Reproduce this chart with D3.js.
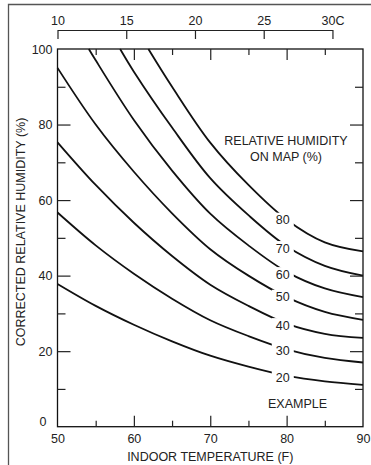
<!DOCTYPE html>
<html>
<head>
<meta charset="utf-8">
<script src="https://cdn.jsdelivr.net/npm/d3@7"></script>
<style>
  body { margin: 0; background: #fff; }
  svg { display: block; font-family: "Liberation Sans", Arial, sans-serif; }
  .axis text { font-size: 12.5px; fill: #222; }
  .axis path.domain { stroke: #222; stroke-width: 1.2; }
  .axis line { stroke: #222; stroke-width: 1.2; }
  .curve { fill: none; stroke: #111; stroke-width: 1.8; }
  .lbl { font-size: 12.5px; fill: #222; }
</style>
</head>
<body>
<svg width="371" height="465"></svg>
<script>
// indoor temperature (F) where the curves were read
const tempF = [50, 55, 60, 65, 70, 75, 80, 85, 90];

// relative humidity on map (%), one curve each
const rhMap = [20, 30, 40, 50, 60, 70, 80];

// corrected relative humidity (%) at each tempF, null = above the chart
const rh20 = [37.8, 32.0, 27.0, 22.6, 18.8, 15.9, 13.5, 12.0, 11.1];
const rh30 = [56.7, 48.0, 40.5, 33.9, 28.2, 24.0, 20.5, 18.2, 17.0];
const rh40 = [75.3, 64.0, 54.0, 45.2, 37.6, 32.0, 27.3, 24.6, 23.5];
const rh50 = [95.0, 80.0, 67.5, 56.5, 47.0, 40.0, 34.3, 30.4, 28.3];
const rh60 = [null, 97.0, 81.2, 67.8, 56.4, 48.0, 41.0, 36.6, 34.3];
const rh70 = [null, null, 94.0, 79.2, 65.8, 56.0, 47.8, 42.6, 40.0];
const rh80 = [null, null, null, 90.0, 75.2, 64.0, 54.8, 48.8, 46.4];
const curves = [rh20, rh30, rh40, rh50, rh60, rh70, rh80];

// where a curve leaves the top of the chart (F), null = starts on left edge
const topExitF = [null, null, null, null, 54.1, 58.2, 61.9];

// curve labels sit on the curves at this temperature
const labelF = 79.5;
const labelRH = [13.0, 20.3, 26.9, 34.4, 40.4, 47.3, 54.8];

// tick labels
const xTicks = [50, 60, 70, 80, 90];
const xMinor = [55, 65, 75, 85];
const xMajor = [60, 70, 80];
const yTicks = [0, 20, 40, 60, 80, 100];
const yMinor = [10, 30, 50, 70, 90];
const yMajor = [20, 40, 60, 80];
const celsiusTicks = [10, 15, 20, 25, 30];

const svg = d3.select('svg');

const x = d3.scaleLinear().domain([50, 90]).range([57.5, 363]);
const y = d3.scaleLinear().domain([0, 100]).range([426.7, 49]);
// celsius scale lined up with the F scale (10C = 50F, 30C = 86F)
const xc = d3.scaleLinear().domain([10, 30]).range([x(50), x(86)]);

// outer frame of the figure (top and left only)
svg.append('path')
  .attr('d', 'M8.5,465 V4.5 H371')
  .attr('fill', 'none')
  .attr('stroke', '#555')
  .attr('stroke-width', 1.3);

// curves
const line = d3.line()
  .x(d => x(d[0]))
  .y(d => y(d[1]))
  .curve(d3.curveCatmullRom.alpha(0.5));

curves.forEach((vals, i) => {
  let pts = tempF.map((t, j) => [t, vals[j]]).filter(d => d[1] != null);
  if (topExitF[i] != null) pts.unshift([topExitF[i], 100]);
  svg.append('path')
    .attr('class', 'curve')
    .attr('d', line(pts));
});

// curve labels with a white patch that breaks the line
const lab = svg.append('g');
rhMap.forEach((rh, i) => {
  const g = lab.append('g')
    .attr('transform', 'translate(' + x(labelF) + ',' + y(labelRH[i]) + ')');
  g.append('rect')
    .attr('x', -11).attr('y', -7)
    .attr('width', 22).attr('height', 14)
    .attr('fill', '#fff');
  g.append('text')
    .attr('class', 'lbl')
    .attr('text-anchor', 'middle')
    .attr('dy', '0.36em')
    .text(rh);
});

// plot frame
svg.append('rect')
  .attr('x', x(50)).attr('y', y(100))
  .attr('width', x(90) - x(50)).attr('height', y(0) - y(100))
  .attr('fill', 'none')
  .attr('stroke', '#111')
  .attr('stroke-width', 1.3);

// inward ticks on all four sides
function inner(axis, tr, vals, len) {
  svg.append('g')
    .attr('class', 'axis')
    .attr('transform', tr)
    .call(axis.tickValues(vals).tickSize(-len).tickSizeOuter(0).tickFormat(''))
    .call(g => g.select('.domain').remove());
}
inner(d3.axisTop(x), 'translate(0,' + y(100) + ')', xMajor, 11);
inner(d3.axisTop(x), 'translate(0,' + y(100) + ')', xMinor, 6);
inner(d3.axisBottom(x), 'translate(0,' + y(0) + ')', xMajor, 11);
inner(d3.axisBottom(x), 'translate(0,' + y(0) + ')', xMinor, 6);
inner(d3.axisLeft(y), 'translate(' + x(50) + ',0)', yMajor, 13);
inner(d3.axisLeft(y), 'translate(' + x(50) + ',0)', yMinor, 8);
inner(d3.axisRight(y), 'translate(' + x(90) + ',0)', yMajor, 13);
inner(d3.axisRight(y), 'translate(' + x(90) + ',0)', yMinor, 8);

// tick labels
svg.append('g')
  .attr('class', 'axis')
  .attr('transform', 'translate(0,' + y(0) + ')')
  .call(d3.axisBottom(x).tickValues(xTicks).tickSize(0).tickPadding(7))
  .call(g => g.select('.domain').remove());

svg.append('g')
  .attr('class', 'axis')
  .attr('transform', 'translate(' + x(50) + ',0)')
  .call(d3.axisLeft(y).tickValues(yTicks).tickSize(0).tickPadding(5))
  .call(g => g.select('.domain').remove())
  .call(g => g.selectAll('.tick').filter(d => d === 0)
    .select('text').attr('x', -11).attr('y', -5));

// celsius scale on top
svg.append('g')
  .attr('class', 'axis')
  .attr('transform', 'translate(0,30)')
  .call(d3.axisTop(xc).tickValues(celsiusTicks).tickSize(-9).tickSizeOuter(0).tickPadding(5)
    .tickFormat(d => d === 30 ? '30C' : d));

// titles
svg.append('text')
  .attr('class', 'lbl')
  .attr('x', (x(50) + x(90)) / 2)
  .attr('y', 460.5)
  .attr('text-anchor', 'middle')
  .text('INDOOR TEMPERATURE (F)');

svg.append('text')
  .attr('class', 'lbl')
  .attr('transform', 'translate(25,232) rotate(-90)')
  .attr('text-anchor', 'middle')
  .text('CORRECTED RELATIVE HUMIDITY (%)');

svg.append('text')
  .attr('class', 'lbl')
  .attr('x', 286).attr('y', 144.5)
  .attr('text-anchor', 'middle')
  .text('RELATIVE HUMIDITY');

svg.append('text')
  .attr('class', 'lbl')
  .attr('x', 286).attr('y', 160.5)
  .attr('text-anchor', 'middle')
  .text('ON MAP (%)');

svg.append('text')
  .attr('class', 'lbl')
  .attr('x', 297.5).attr('y', 407.8)
  .attr('text-anchor', 'middle')
  .text('EXAMPLE');
</script>
</body>
</html>
